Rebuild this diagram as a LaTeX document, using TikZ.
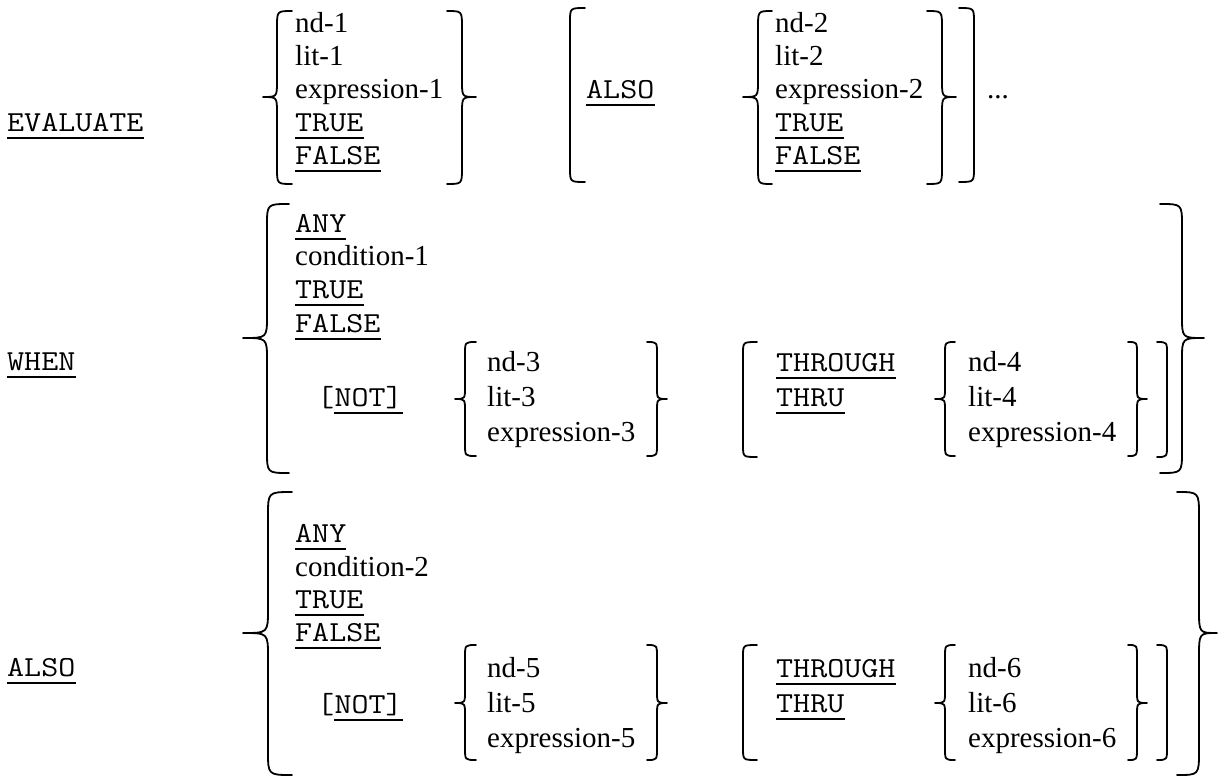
\documentclass[tikz,border=0pt]{standalone}
\usepackage{fontspec}
\setmainfont{Liberation Serif}
\usepackage{graphicx}
\newcommand\kwt[1]{\scalebox{1.14}[1]{\ttfamily #1}}
% brace: #1 tip x, #2 spine x, #3 end x, #4 top y, #5 mid y, #6 bottom y, #7 curl radius
\newcommand\mybrace[7]{\draw[delim] (#3,#4) .. controls (#2,#4) .. (#2,{#4+#7}) -- (#2,{#5-#7}) .. controls (#2,#5) .. (#1,#5) .. controls (#2,#5) .. (#2,{#5+#7}) -- (#2,{#6-#7}) .. controls (#2,#6) .. (#3,#6);}
% bracket: #1 spine x, #2 end x, #3 top, #4 bottom, #5 radius
\newcommand\mybrack[5]{\draw[delim] (#2,#3) .. controls (#1,#3) .. (#1,{#3+#5}) -- (#1,{#4-#5}) .. controls (#1,#4) .. (#2,#4);}
\newcommand\mytext[4]{\node[tx] (#1) at (#2,#3) {#4};}
\newcommand\mykw[4]{\node[kw] (#1) at (#2,#3) {\kwt{#4}};\draw[ul] ([yshift=-7pt]#1.base west) -- ([yshift=-7pt]#1.base east);}
\begin{document}
\begin{tikzpicture}[x=1pt,y=-1pt,
  tx/.style={anchor=base west,inner sep=0pt,font=\fontsize{29}{33}\selectfont\rmfamily},
  kw/.style={anchor=base west,inner sep=0pt,font=\fontsize{29}{33}\selectfont},
  ul/.style={line width=2pt},
  delim/.style={line width=1.8pt,line cap=round,line join=round}]
\useasboundingbox (0,0) rectangle (1219,777);
% ---------- section 1 ----------
\mykw{ev}{7}{131}{EVALUATE}
\mybrace{263}{277}{292}{11}{97}{184}{16}
\mytext{nd1}{295}{32}{nd-1}
\mytext{lit1}{295}{65}{lit-1}
\mytext{ex1}{295}{98}{expression-1}
\mykw{tr1}{295}{131}{TRUE}
\mykw{fa1}{295}{164}{FALSE}
\mybrace{476}{462}{447}{11}{97}{184}{16}
\mybrack{570}{585}{8}{182}{14}
\mykw{also1}{586}{98}{ALSO}
\mybrace{743}{758}{772}{11}{97}{184}{16}
\mytext{nd2}{775}{32}{nd-2}
\mytext{lit2}{775}{65}{lit-2}
\mytext{ex2}{775}{98}{expression-2}
\mykw{tr2}{775}{131}{TRUE}
\mykw{fa2}{775}{164}{FALSE}
\mybrace{956}{942}{927}{11}{97}{184}{16}
\mybrack{974}{959}{8}{182}{14}
\mytext{dots}{987}{98}{...}
% ---------- section 2 ----------
\mykw{when}{7}{370}{WHEN}
\mybrace{243}{267}{289}{204}{338}{473}{22}
\mykw{any1}{295}{232}{ANY}
\mytext{cond1}{295}{265}{condition-1}
\mykw{tr3}{295}{298}{TRUE}
\mykw{fa3}{295}{332}{FALSE}
\node[kw] (lb1) at (317,406) {\kwt{[}};
\node[kw,anchor=base west] (not1) at (lb1.base east) {\kwt{NOT]}};
\draw[ul] ([yshift=-7pt]not1.base west) -- ([yshift=-7pt]not1.base east);
\mybrace{455}{465}{476}{342}{399}{456}{12}
\mytext{nd3}{487}{371}{nd-3}
\mytext{lit3}{487}{406}{lit-3}
\mytext{ex3}{487}{441}{expression-3}
\mybrace{667}{657}{647}{342}{399}{456}{12}
\mybrack{743}{757}{342}{457}{12}
\mykw{thr1}{776}{371}{THROUGH}
\mykw{thru1}{776}{406}{THRU}
\mybrace{935}{945}{955}{342}{399}{456}{12}
\mytext{nd4}{968}{371}{nd-4}
\mytext{lit4}{968}{406}{lit-4}
\mytext{ex4}{968}{441}{expression-4}
\mybrace{1147}{1137}{1128}{342}{399}{456}{12}
\mybrack{1167}{1157}{342}{457}{12}
\mybrace{1204}{1182}{1160}{204}{338}{473}{22}
% ---------- section 3 ----------
\mykw{also2}{7}{676}{ALSO}
\mybrace{243}{268}{292}{492}{633}{775}{24}
\mykw{any2}{295}{542}{ANY}
\mytext{cond2}{295}{576}{condition-2}
\mykw{tr4}{295}{608}{TRUE}
\mykw{fa4}{295}{641}{FALSE}
\node[kw] (lb2) at (317,713) {\kwt{[}};
\node[kw,anchor=base west] (not2) at (lb2.base east) {\kwt{NOT]}};
\draw[ul] ([yshift=-7pt]not2.base west) -- ([yshift=-7pt]not2.base east);
\mybrace{455}{465}{476}{645}{703}{760}{12}
\mytext{nd5}{487}{677}{nd-5}
\mytext{lit5}{487}{712}{lit-5}
\mytext{ex5}{487}{747}{expression-5}
\mybrace{667}{657}{647}{645}{703}{760}{12}
\mybrack{743}{757}{645}{760}{12}
\mykw{thr2}{776}{677}{THROUGH}
\mykw{thru2}{776}{712}{THRU}
\mybrace{935}{945}{955}{645}{703}{760}{12}
\mytext{nd6}{968}{677}{nd-6}
\mytext{lit6}{968}{712}{lit-6}
\mytext{ex6}{968}{747}{expression-6}
\mybrace{1147}{1137}{1128}{645}{703}{760}{12}
\mybrack{1167}{1157}{645}{760}{12}
\mybrace{1217}{1199}{1177}{492}{633}{775}{24}
\end{tikzpicture}
\end{document}
